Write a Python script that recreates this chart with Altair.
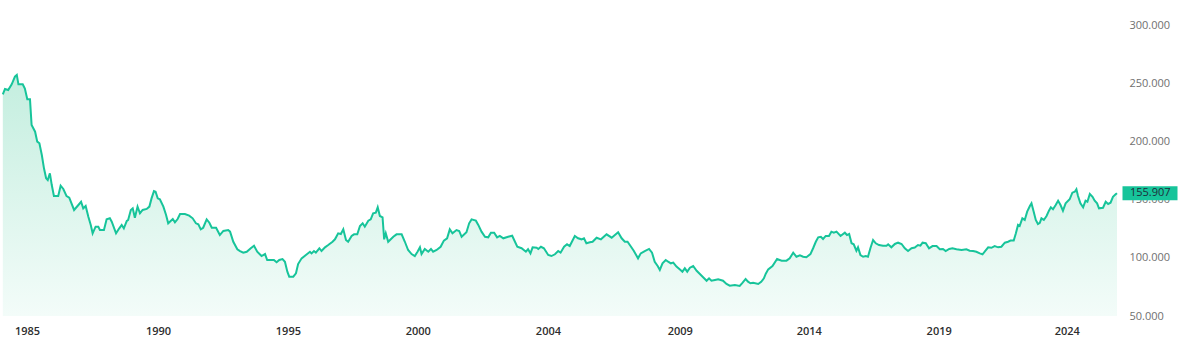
import altair as alt
import pandas as pd

# Time position (decimal year) and USD/JPY level
years = [
    1984.61, 1984.69, 1984.81, 1984.94, 1985.06, 1985.13, 1985.19, 1985.35, 1985.43, 1985.52,
    1985.62, 1985.68, 1985.81, 1985.89, 1985.97, 1986.06, 1986.14, 1986.22, 1986.28, 1986.36,
    1986.43, 1986.51, 1986.67, 1986.76, 1986.86, 1986.98, 1987.08, 1987.26, 1987.42, 1987.52,
    1987.60, 1987.69, 1987.79, 1987.88, 1987.95, 1988.06, 1988.16, 1988.22, 1988.37, 1988.47,
    1988.59, 1988.66, 1988.82, 1988.94, 1989.03, 1989.11, 1989.22, 1989.27, 1989.37, 1989.44,
    1989.52, 1989.62, 1989.71, 1989.81, 1989.96, 1990.06, 1990.14, 1990.23, 1990.29, 1990.37,
    1990.45, 1990.58, 1990.68, 1990.76, 1990.93, 1991.01, 1991.11, 1991.20, 1991.38, 1991.54,
    1991.67, 1991.79, 1991.88, 1991.97, 1992.06, 1992.19, 1992.29, 1992.38, 1992.54, 1992.68,
    1992.81, 1992.99, 1993.06, 1993.18, 1993.33, 1993.43, 1993.55, 1993.68, 1993.83, 1993.95,
    1994.07, 1994.23, 1994.36, 1994.44, 1994.61, 1994.69, 1994.79, 1994.89, 1995.01, 1995.10,
    1995.19, 1995.26, 1995.41, 1995.51, 1995.59, 1995.72, 1995.88, 1996.03, 1996.09, 1996.18,
    1996.25, 1996.38, 1996.46, 1996.59, 1996.71, 1996.87, 1996.96, 1997.08, 1997.18, 1997.27,
    1997.37, 1997.45, 1997.58, 1997.67, 1997.79, 1997.89, 1997.99, 1998.07, 1998.20, 1998.29,
    1998.38, 1998.48, 1998.55, 1998.63, 1998.73, 1998.79, 1998.85, 1998.94, 1999.13, 1999.25,
    1999.44, 1999.56, 1999.68, 1999.81, 1999.93, 2000.03, 2000.12, 2000.18, 2000.30, 2000.43,
    2000.53, 2000.61, 2000.74, 2000.89, 2001.01, 2001.13, 2001.23, 2001.33, 2001.48, 2001.58,
    2001.67, 2001.85, 2001.95, 2002.04, 2002.20, 2002.29, 2002.41, 2002.54, 2002.66, 2002.76,
    2002.88, 2002.99, 2003.09, 2003.22, 2003.40, 2003.55, 2003.74, 2003.90, 2004.06, 2004.14,
    2004.23, 2004.31, 2004.46, 2004.52, 2004.62, 2004.73, 2004.89, 2005.01, 2005.14, 2005.26,
    2005.35, 2005.48, 2005.59, 2005.69, 2005.88, 2006.00, 2006.13, 2006.22, 2006.31, 2006.44,
    2006.54, 2006.69, 2006.85, 2007.06, 2007.25, 2007.37, 2007.49, 2007.62, 2007.74, 2007.84,
    2007.95, 2008.07, 2008.23, 2008.33, 2008.48, 2008.64, 2008.75, 2008.85, 2008.96, 2009.04,
    2009.14, 2009.26, 2009.35, 2009.45, 2009.54, 2009.66, 2009.81, 2009.88, 2009.97, 2010.06,
    2010.16, 2010.28, 2010.41, 2010.53, 2010.65, 2010.78, 2010.87, 2010.96, 2011.09, 2011.21,
    2011.39, 2011.52, 2011.64, 2011.83, 2012.01, 2012.12, 2012.23, 2012.32, 2012.41, 2012.51,
    2012.70, 2012.81, 2012.91, 2012.98, 2013.07, 2013.23, 2013.40, 2013.57, 2013.75, 2013.87,
    2014.00, 2014.12, 2014.25, 2014.37, 2014.49, 2014.64, 2014.74, 2014.84, 2014.93, 2015.03,
    2015.11, 2015.21, 2015.33, 2015.42, 2015.51, 2015.61, 2015.76, 2015.92, 2016.00, 2016.08,
    2016.17, 2016.25, 2016.35, 2016.41, 2016.50, 2016.60, 2016.70, 2016.78, 2016.87, 2016.97,
    2017.07, 2017.19, 2017.34, 2017.47, 2017.53, 2017.65, 2017.78, 2017.90, 2018.03, 2018.15,
    2018.27, 2018.40, 2018.52, 2018.64, 2018.73, 2018.81, 2018.93, 2019.05, 2019.18, 2019.33,
    2019.45, 2019.57, 2019.67, 2019.80, 2019.92, 2020.07, 2020.26, 2020.44, 2020.56, 2020.69,
    2020.81, 2020.94, 2021.04, 2021.12, 2021.25, 2021.37, 2021.49, 2021.62, 2021.74, 2021.87,
    2021.99, 2022.08, 2022.20, 2022.28, 2022.36, 2022.42, 2022.52, 2022.61, 2022.70, 2022.80,
    2022.86, 2022.94, 2023.02, 2023.10, 2023.17, 2023.23, 2023.32, 2023.42, 2023.51, 2023.58,
    2023.66, 2023.76, 2023.85, 2023.94, 2024.03, 2024.13, 2024.28, 2024.38, 2024.47, 2024.53,
    2024.59, 2024.68, 2024.78, 2024.87, 2024.94, 2025.03, 2025.13, 2025.21, 2025.30, 2025.37,
    2025.52, 2025.62, 2025.71, 2025.80, 2025.89, 2025.99, 2026.04,
]
rates = [
    241.0, 245.7, 244.8, 249.7, 256.3, 257.8, 249.7, 249.7, 246.0, 236.8,
    236.8, 214.6, 208.9, 200.3, 198.9, 188.8, 177.3, 168.7, 167.2, 173.0,
    162.9, 153.4, 153.4, 162.3, 159.5, 153.4, 152.0, 141.4, 145.7, 148.5,
    142.8, 144.8, 135.6, 128.5, 121.3, 127.0, 127.0, 124.1, 124.1, 133.3,
    134.2, 131.3, 121.3, 125.6, 128.5, 125.6, 131.9, 132.8, 141.4, 142.8,
    134.7, 144.3, 138.6, 141.4, 142.3, 144.3, 151.4, 157.7, 157.1, 151.4,
    150.6, 144.3, 137.1, 129.9, 133.6, 130.8, 133.6, 137.9, 137.9, 136.5,
    134.2, 129.9, 129.0, 124.7, 126.1, 133.3, 130.4, 126.1, 126.1, 119.8,
    123.3, 124.1, 122.7, 114.0, 107.5, 106.0, 104.6, 105.4, 108.4, 110.6,
    105.4, 101.7, 103.4, 98.3, 98.3, 98.3, 96.3, 98.3, 99.1, 96.8,
    88.2, 83.9, 83.9, 86.8, 94.8, 99.7, 102.6, 105.4, 104.0, 106.0,
    104.6, 108.4, 106.0, 109.2, 111.2, 114.0, 116.1, 121.3, 120.7, 124.7,
    115.5, 114.0, 119.0, 120.4, 120.4, 127.6, 129.9, 127.0, 132.2, 133.3,
    138.5, 139.1, 143.7, 136.2, 135.1, 116.1, 121.3, 114.0, 118.3, 120.4,
    120.4, 114.0, 106.9, 103.4, 101.7, 105.4, 109.2, 103.4, 107.8, 105.4,
    107.8, 105.4, 106.9, 109.7, 115.0, 117.0, 124.7, 121.3, 124.1, 123.3,
    118.3, 122.2, 129.9, 133.3, 132.2, 128.5, 122.7, 118.3, 117.8, 121.8,
    121.8, 117.8, 119.0, 117.0, 118.3, 119.2, 109.7, 108.4, 105.4, 107.5,
    104.0, 109.2, 108.8, 107.8, 109.7, 108.4, 102.6, 101.7, 103.2, 106.0,
    104.6, 109.7, 111.8, 110.3, 119.0, 117.0, 116.1, 117.0, 112.7, 113.5,
    114.0, 117.5, 116.1, 120.4, 117.5, 119.8, 122.2, 117.0, 114.0, 114.0,
    110.3, 106.3, 99.7, 104.0, 106.0, 107.8, 104.6, 96.8, 93.1, 89.7,
    95.4, 98.3, 96.8, 95.4, 96.0, 92.6, 89.7, 88.2, 91.1, 88.2,
    91.6, 93.1, 89.0, 86.2, 83.4, 80.4, 82.5, 80.4, 81.0, 81.6,
    80.4, 77.6, 76.1, 76.7, 75.9, 78.7, 81.9, 79.6, 78.2, 78.7,
    77.6, 79.5, 82.5, 86.5, 90.2, 93.1, 99.1, 97.7, 97.7, 99.7,
    104.6, 101.1, 102.3, 101.1, 100.6, 103.4, 108.4, 114.0, 117.8, 118.3,
    116.4, 119.0, 119.0, 122.7, 121.8, 122.7, 119.0, 121.8, 119.8, 120.7,
    112.7, 111.8, 106.3, 109.2, 102.6, 101.1, 101.7, 101.1, 108.4, 115.5,
    112.7, 111.2, 110.6, 110.6, 111.8, 109.2, 112.1, 113.2, 112.1, 108.4,
    106.0, 108.4, 109.0, 111.2, 110.6, 113.2, 112.7, 108.4, 110.3, 110.3,
    107.5, 107.8, 106.0, 107.8, 108.4, 107.5, 106.9, 107.5, 106.3, 106.0,
    105.4, 104.0, 103.2, 105.4, 109.2, 108.8, 110.3, 109.2, 109.7, 113.2,
    114.0, 115.0, 115.0, 121.3, 128.5, 127.6, 134.2, 132.8, 140.0, 144.8,
    147.1, 140.0, 132.8, 129.3, 130.4, 134.2, 132.8, 136.2, 140.8, 143.7,
    142.0, 145.7, 149.4, 145.7, 140.8, 147.1, 150.6, 156.3, 157.1, 159.2,
    153.4, 147.1, 143.7, 149.4, 148.5, 155.2, 152.8, 149.4, 147.1, 142.8,
    143.3, 148.5, 146.6, 147.7, 152.8, 154.9, 155.907,
]

# Axis tick positions (decimal year) and the labels shown on them
tick_years = [1985.51, 1990.38, 1995.21, 2000.04, 2004.88, 2009.78, 2014.58, 2019.41, 2024.17]
y_ticks = [50, 100, 150, 200, 250, 300]

x_domain = [1984.505, 2026.04]
y_domain = [50, 322.41]
y_base = 50

df = pd.DataFrame({"t": years, "v": rates})
last = df.tail(1).copy()
last["label"] = [f"{rates[-1]:.3f}"]

GREEN = "#17c49a"
FONT = "Open Sans"

x_scale = alt.Scale(domain=x_domain, nice=False, zero=False)
y_scale = alt.Scale(domain=y_domain, nice=False, zero=False)

x_axis = alt.Axis(
    values=tick_years, labelExpr="floor(datum.value)", title=None,
    grid=False, ticks=False, domain=False, labelFont=FONT, labelFontSize=11,
    labelFontWeight=600, labelColor="#2e2e2e", labelPadding=9, labelFlush=False,
)
y_axis = alt.Axis(
    orient="right", values=y_ticks, format=".3f", title=None, grid=False,
    ticks=False, domain=False, labelFont=FONT, labelFontSize=11,
    labelColor="#707070", labelPadding=12, labelAlign="left", labelBaseline="middle",
)

X = alt.X("t:Q", scale=x_scale, axis=x_axis)
Y = alt.Y("v:Q", scale=y_scale, axis=y_axis)

gradient = alt.Gradient(
    gradient="linear",
    stops=[alt.GradientStop(color="#c4eedf", offset=0),
           alt.GradientStop(color="#f3fcf9", offset=1)],
    x1=1, x2=1, y1=0, y2=1,
)

area = alt.Chart(df).mark_area(color=gradient, opacity=1).encode(
    x=X, y=Y, y2=alt.datum(y_base),
)
line = alt.Chart(df).mark_line(color=GREEN, strokeWidth=2).encode(x=X, y=Y)
box = alt.Chart(last).mark_tick(
    orient="horizontal", color=GREEN, opacity=1, size=55, thickness=14, xOffset=33,
).encode(x=X, y=Y)
label = alt.Chart(last).mark_text(
    align="left", baseline="middle", dx=13, font=FONT, fontSize=11, color="#1f2d3a",
).encode(x=X, y=Y, text="label:N")

chart = alt.layer(area, line, box, label).properties(
    width=1117, height=316,
    autosize=alt.AutoSizeParams(type="none"),
    padding={"left": 0, "top": 0, "right": 61, "bottom": 35},
).configure_view(stroke=None)

chart.save("out.html", embed_options={"renderer": "svg", "actions": False})
